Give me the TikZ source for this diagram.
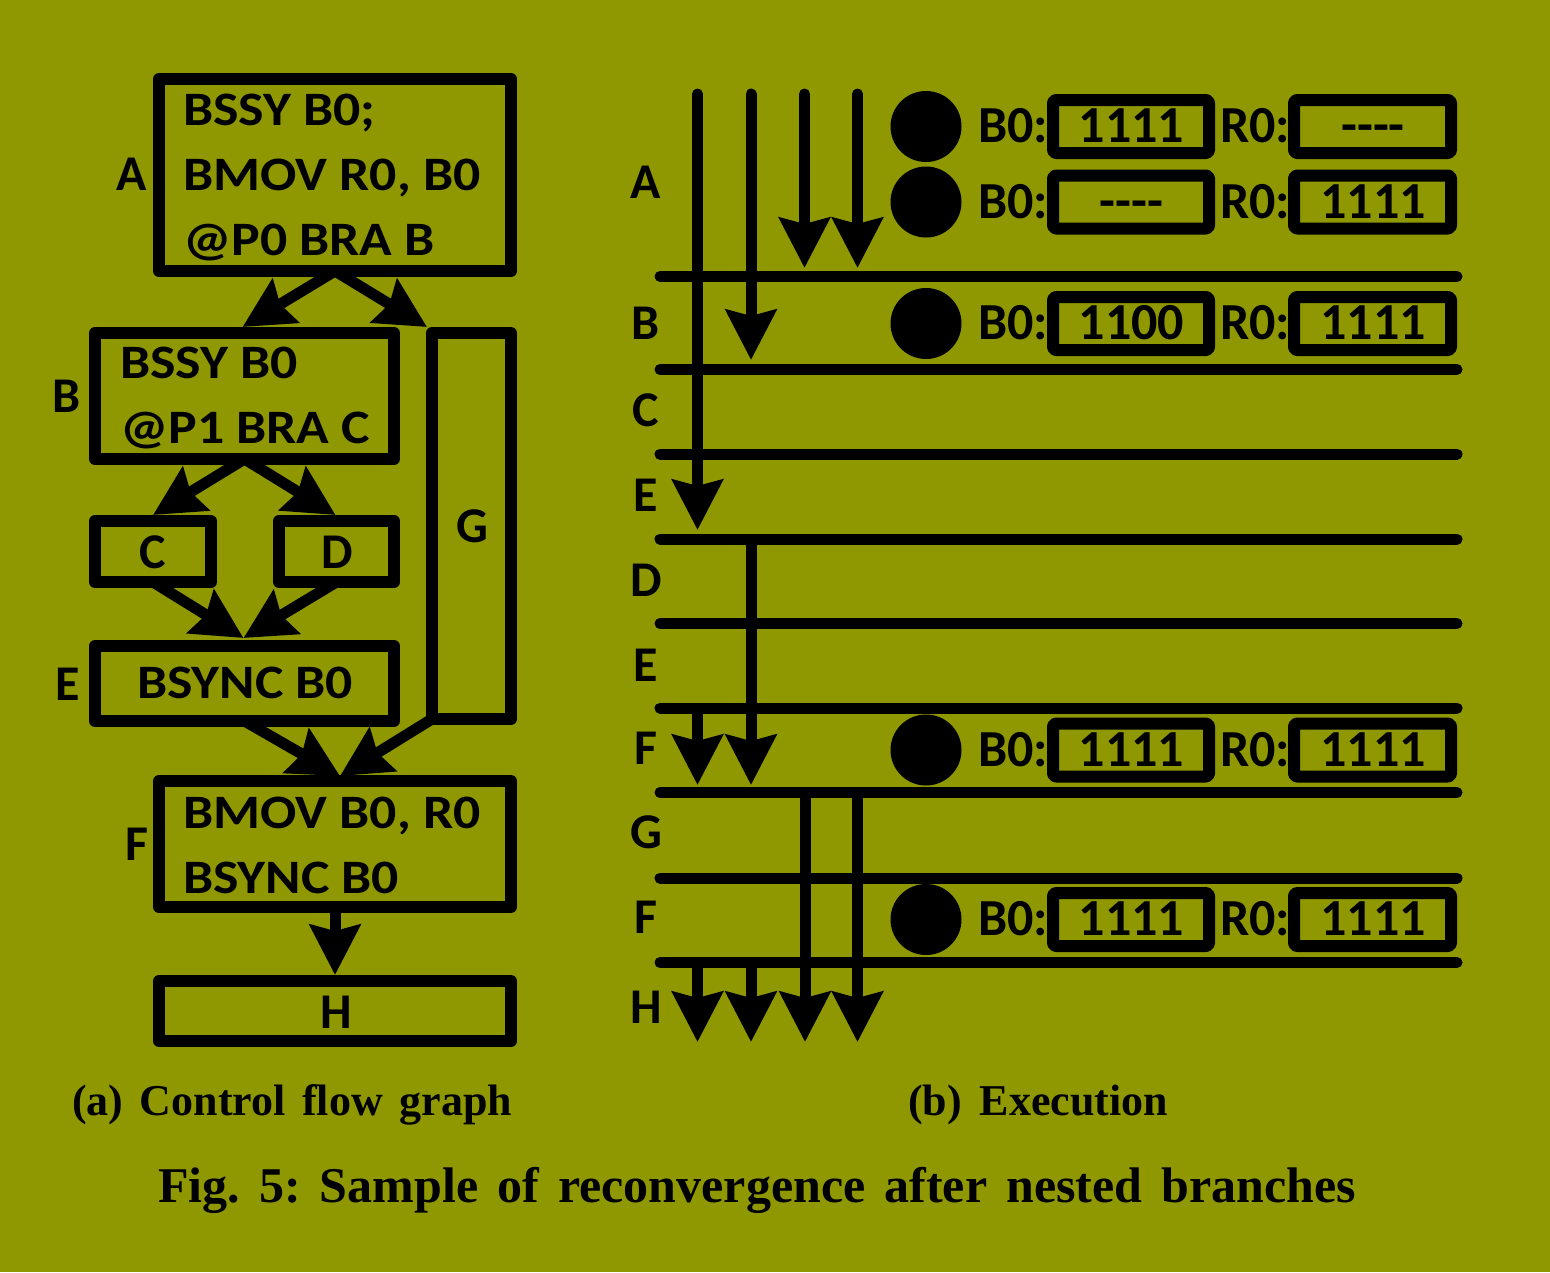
\documentclass[tikz,border=0pt]{standalone}
\usepackage{fontspec}
\setmainfont{Liberation Serif}
\newfontfamily\carl{Carlito}
\newfontfamily\carlw[FakeStretch=1.12]{Carlito}
\usetikzlibrary{arrows.meta}
\definecolor{bg}{RGB}{143,152,0}
\begin{document}
\frenchspacing
\begin{tikzpicture}[x=1pt,y=-1pt,
  box/.style={draw=black,line width=12pt,line join=round,inner sep=0pt,outer sep=0pt},
  reg/.style={draw=black,line width=12pt,line join=round,rounded corners=3pt,inner sep=0pt,outer sep=0pt,minimum height=53pt},
  code/.style={font=\carlw\bfseries\fontsize{48}{60}\selectfont,inner sep=0pt,anchor=base west},
  lbl/.style={font=\carl\bfseries\fontsize{50}{60}\selectfont,inner sep=0pt,anchor=base},
  rtxt/.style={font=\carl\bfseries\fontsize{52}{60}\selectfont,inner sep=0pt},
  arr/.style={line width=11pt,-{Stealth[length=50pt,width=50pt,inset=6pt]}},
  varr/.style={line width=11pt,line cap=round,-{Stealth[length=50pt,width=50pt,inset=6pt]}},
  hline/.style={line width=11pt,line cap=round},
  dot/.style={circle,fill=black,inner sep=0pt,minimum size=71pt},
  captxt/.style={inner sep=0pt,anchor=base}]
\fill[bg] (0,0) rectangle (1550,1272);
\useasboundingbox (0,0) rectangle (1550,1272);

% ---------- (a) control flow graph ----------
\node[box,minimum width=352pt,minimum height=192pt] (A) at (335,175) {};
\node[code] (At1) at (183,125) {BSSY B0;};
\node[code] (At2) at (183,190) {BMOV R0, B0};
\node[code] (At3) at (183,255) {@P0 BRA B};
\node[lbl] (Al) at (132,190) {A};

\node[box,minimum width=299pt,minimum height=126pt] (B) at (244.5,396) {};
\node[code] (Bt1) at (120,378) {BSSY B0};
\node[code] (Bt2) at (120,443) {@P1 BRA C};
\node[lbl] (Bl) at (67,412) {B};

\node[box,minimum width=79pt,minimum height=386pt] (G) at (471.5,526) {};
\node[lbl] (Gl) at (472,542) {G};

\node[box,minimum width=116pt,minimum height=61pt] (C) at (153,551.5) {};
\node[lbl] (Cl) at (153,568) {C};
\node[box,minimum width=115pt,minimum height=61pt] (D) at (336.5,551.5) {};
\node[lbl] (Dl) at (337,568) {D};

\node[box,minimum width=299pt,minimum height=75pt] (E) at (244.5,683.5) {};
\node[code,anchor=base] (Et) at (245,698) {BSYNC B0};
\node[lbl] (El) at (68,700) {E};

\node[box,minimum width=352pt,minimum height=126pt] (F) at (335,844) {};
\node[code] (Ft1) at (183,828) {BMOV B0, R0};
\node[code] (Ft2) at (183,893) {BSYNC B0};
\node[lbl] (Fl) at (137,860) {F};

\node[box,minimum width=352pt,minimum height=60pt] (H) at (335,1011) {};
\node[lbl] (Hl) at (336,1028) {H};

\draw[arr] (A.south) -- ([xshift=-2pt,yshift=6pt]B.north);
\draw[arr] (A.south) -- ([xshift=-5pt,yshift=6pt]G.north west);
\draw[arr] (B.south) -- ([yshift=6pt]C.north);
\draw[arr] (B.south) -- ([xshift=-1pt,yshift=6pt]D.north);
\draw[arr] (C.south) -- ([xshift=-1pt,yshift=8pt]E.north);
\draw[arr] (D.south) -- ([xshift=-1pt,yshift=8pt]E.north);
\draw[arr] (E.south) -- ([xshift=5pt,yshift=5pt]F.north);
\draw[arr] (G.south west) -- ([xshift=5pt,yshift=5pt]F.north);
\draw[arr] (F.south) -- ([yshift=6pt]H.north);

% ---------- (b) execution ----------
\foreach \yy in {276.5,369.5,454,539,623.5,708,792.5,878,962.5}
  \draw[hline] (660,\yy) -- (1457,\yy);

\foreach \lab/\yy in {A/198,B/339,C/426,E/511,D/596,E/681,F/764,G/848,F/933,H/1023}
  \node[lbl] at (646,\yy) {\lab};

% threads
\coordinate (t1) at (697.5,94);
\coordinate (t2) at (751,94);
\coordinate (t3) at (804.5,94);
\coordinate (t4) at (857.5,94);
\coordinate (eA3) at (804.5,268);
\coordinate (eA4) at (857.5,268);
\coordinate (eB2) at (751,360);
\coordinate (eE1) at (697.5,530);
\coordinate (sD2) at (751,539);
\coordinate (sF1) at (697.5,708);
\coordinate (eF1) at (697.5,785);
\coordinate (eF2) at (751,785);
\coordinate (sG3) at (805,792.5);
\coordinate (sG4) at (857.5,792.5);
\coordinate (sH1) at (697.5,962.5);
\coordinate (sH2) at (751,962.5);
\coordinate (eH1) at (697.5,1042);
\coordinate (eH2) at (751,1042);
\coordinate (eH3) at (805,1042);
\coordinate (eH4) at (857.5,1042);

\draw[varr] (t1) -- (eE1);
\draw[varr] (t2) -- (eB2);
\draw[varr] (t3) -- (eA3);
\draw[varr] (t4) -- (eA4);
\draw[arr] (sD2) -- (eF2);
\draw[arr] (sF1) -- (eF1);
\draw[arr] (sG3) -- (eH3);
\draw[arr] (sG4) -- (eH4);
\draw[arr] (sH1) -- (eH1);
\draw[arr] (sH2) -- (eH2);

% state rows
\foreach \n/\cy/\bv/\rv in {1/126.5/1111/{{-}{-}{-}{-}},2/202/{{-}{-}{-}{-}}/1111,3/323.5/1100/1111,4/750/1111/1111,5/919.5/1111/1111}{
  \node[dot] (dot\n) at (926,\cy) {};
  \node[rtxt,anchor=base west] (bl\n) at (978,\cy+16) {B0:};
  \node[reg,minimum width=156pt] (breg\n) at (1131,\cy) {};
  \node[rtxt,anchor=base] (bv\n) at (1131.5,\cy+16) {\bv};
  \node[rtxt,anchor=base west] (rl\n) at (1220,\cy+16) {R0:};
  \node[reg,minimum width=157pt] (rreg\n) at (1372.5,\cy) {};
  \node[rtxt,anchor=base] (rv\n) at (1373,\cy+16) {\rv};
}

% ---------- captions ----------
\node[captxt,font=\bfseries\fontsize{44}{50}\selectfont] (capa) at (292,1115) {\hbox to 440pt{(a) Control flow graph}};
\node[captxt,font=\bfseries\fontsize{44}{50}\selectfont] (capb) at (1038,1115) {\hbox to 260pt{(b) Execution}};
\node[captxt,font=\bfseries\fontsize{50}{56}\selectfont] (capm) at (757,1202) {\hbox to 1198pt{Fig. 5: Sample of reconvergence after nested branches}};
\end{tikzpicture}
\end{document}
